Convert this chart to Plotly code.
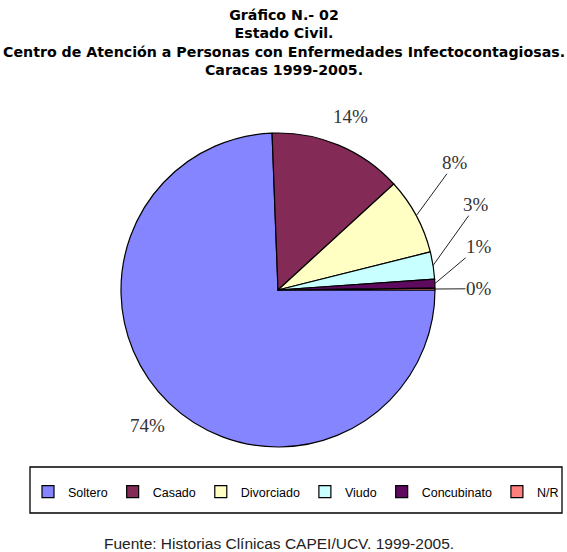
import math
import plotly.graph_objects as go

# estado civil, porcentajes
categorias = ["Soltero", "Casado", "Divorciado", "Viudo", "Concubinato", "N/R"]
valores = [74.4, 13.8, 7.9, 2.8, 0.9, 0.2]
colores = ["#8585FF", "#842A56", "#FFFFC4", "#C8FFFF", "#5E0A5E", "#FF7F7F"]

titulo = ("<b>Gráfico N.- 02<br>Estado Civil.<br>"
          "Centro de Atención a Personas con Enfermedades Infectocontagiosas.<br>"
          "Caracas 1999-2005.</b>")
fuente = "Fuente: Historias Clínicas CAPEI/UCV. 1999-2005."

W, H = 567, 552
cx, cy, r = 278, 290, 157   # centro y radio del pastel en px
rot = 90                     # primer sector empieza a las 3 en punto

fig = go.Figure()
fig.add_trace(go.Pie(
    labels=categorias, values=valores, sort=False,
    direction="clockwise", rotation=rot,
    marker=dict(colors=colores, line=dict(color="black", width=1.2)),
    textinfo="none",
    domain=dict(x=[(cx - r) / W, (cx + r) / W], y=[(H - cy - r) / H, (H - cy + r) / H]),
    hoverinfo="label+percent",
))

# etiquetas de porcentaje estilo excel, calculadas desde los valores
total = sum(valores)
acum = 0
etiquetas = []
for v in valores:
    p = v / total
    mid = math.radians(rot + 360 * (acum + p / 2))
    acum += p
    k = 1.2 if p >= 0.10 else 1.28
    ex, ey = cx + r * math.sin(mid), cy - r * math.cos(mid)
    lx, ly = cx + k * r * math.sin(mid), cy - k * r * math.cos(mid)
    etiquetas.append([p, ex, ey, lx, ly])

# separar etiquetas del lado derecho que se enciman (de abajo hacia arriba)
der = sorted([e for e in etiquetas if e[3] > cx], key=lambda e: -e[4])
prev = None
for e in der:
    if prev is not None and e[4] > prev - 42:
        e[4] = prev - 42
    prev = e[4]

anots = []
fnt = dict(family="Liberation Serif, Times New Roman, serif", size=19, color="#333333")
for p, ex, ey, lx, ly in etiquetas:
    txt = f"{round(p * 100)}%"
    if p < 0.10:
        anots.append(dict(x=ex / W, y=1 - ey / H, xref="paper", yref="paper",
                          ax=lx - ex, ay=ly - ey, text=txt, font=fnt,
                          showarrow=True, arrowhead=0, arrowwidth=1, arrowcolor="#222222",
                          standoff=0, borderpad=0))
    else:
        anots.append(dict(x=lx / W, y=1 - ly / H, xref="paper", yref="paper",
                          xanchor="center", yanchor="middle",
                          text=txt, font=fnt, showarrow=False))

anots.append(dict(text=titulo, x=0.5, y=1 - 5 / H, xref="paper", yref="paper",
                  xanchor="center", yanchor="top", showarrow=False,
                  font=dict(family="Verdana, DejaVu Sans, sans-serif", size=14.2, color="black")))
anots.append(dict(text=fuente, x=279 / W, y=1 - 543 / H, xref="paper", yref="paper",
                  xanchor="center", yanchor="middle", showarrow=False,
                  font=dict(family="Arial, Liberation Sans, sans-serif", size=15.5, color="#222222")))

fig.update_layout(
    width=W, height=H,
    margin=dict(l=0, r=0, t=0, b=0),
    paper_bgcolor="white",
    showlegend=True,
    legend=dict(orientation="h", x=296 / W, xanchor="center", y=1 - 492 / H, yanchor="middle",
                borderwidth=0, bgcolor="rgba(0,0,0,0)",
                font=dict(family="Arial, Liberation Sans, sans-serif", size=12.5, color="black"),
                itemwidth=30, tracegroupgap=0),
    shapes=[dict(type="rect", xref="paper", yref="paper",
                 x0=30 / W, x1=562 / W, y0=1 - 513 / H, y1=1 - 467 / H,
                 line=dict(color="black", width=1.3), fillcolor="rgba(0,0,0,0)", layer="below")],
    annotations=anots,
)

fig.write_html("out.html", config={"displayModeBar": False},
               post_script="document.body.style.margin='0';")
